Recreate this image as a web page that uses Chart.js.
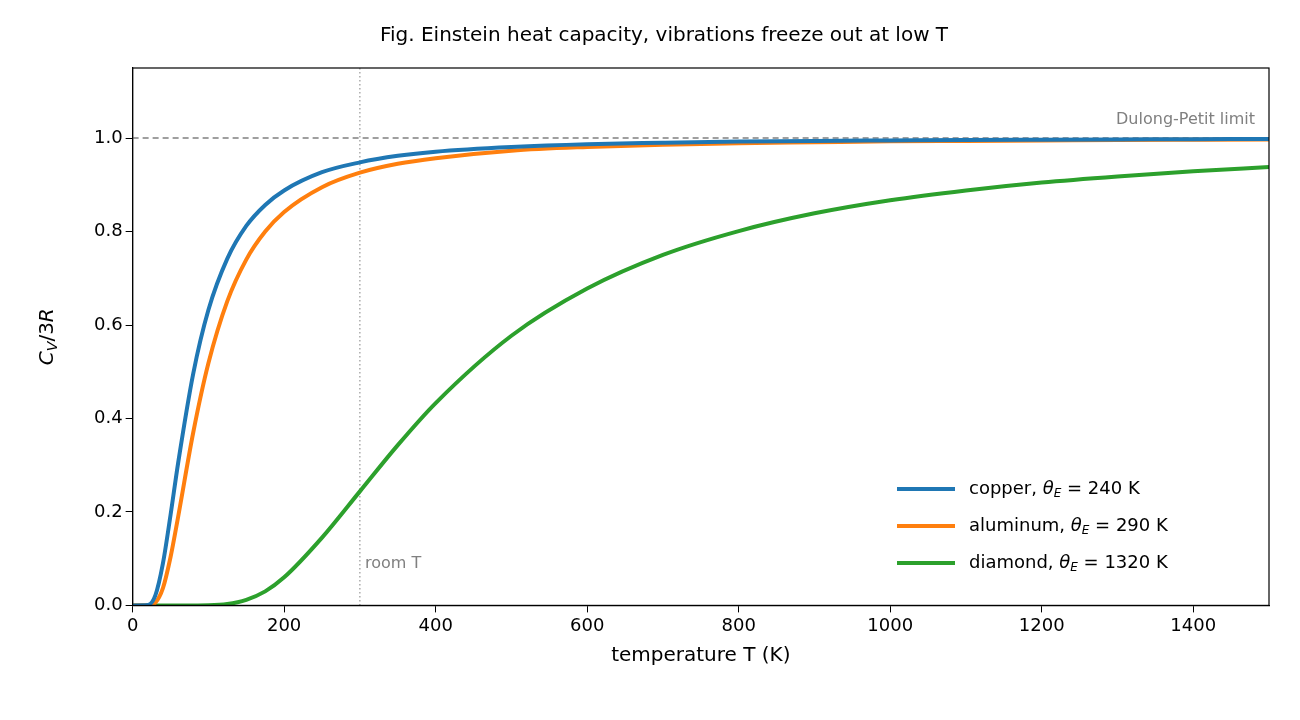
<!DOCTYPE html>
<html>
<head>
<meta charset="utf-8">
<script src="https://cdn.jsdelivr.net/npm/chart.js@4"></script>
<style>body{margin:0;background:#fff}</style>
</head>
<body>
<canvas id="c" width="1300" height="720"></canvas>
<script>
const temps = [0, 20, 30, 40, 50, 60, 80, 100, 125, 150, 175, 200, 250, 300, 350, 400, 500, 600, 700, 800, 900, 1000, 1100, 1200, 1300, 1400, 1500];
const copper = [0, 0.0009, 0.0215, 0.090, 0.193, 0.304, 0.496, 0.632, 0.742, 0.812, 0.857, 0.888, 0.927, 0.948, 0.962, 0.971, 0.981, 0.987, 0.990, 0.9925, 0.994, 0.995, 0.996, 0.9967, 0.9972, 0.9976, 0.998];
const aluminum = [0, 0.0001, 0.006, 0.037, 0.103, 0.189, 0.370, 0.518, 0.651, 0.740, 0.800, 0.842, 0.895, 0.926, 0.945, 0.957, 0.973, 0.981, 0.986, 0.989, 0.991, 0.993, 0.994, 0.995, 0.996, 0.9964, 0.997];
const diamond = [0, 0, 0, 0, 0, 0, 0, 0.0003, 0.003, 0.012, 0.030, 0.060, 0.145, 0.244, 0.343, 0.433, 0.577, 0.678, 0.750, 0.801, 0.839, 0.867, 0.888, 0.905, 0.918, 0.929, 0.938];
const names = ['copper', 'aluminum', 'diamond'];
const thetas = [240, 290, 1320];
const colors = ['#1f77b4', '#ff7f0e', '#2ca02c'];
const xTicks = [0, 200, 400, 600, 800, 1000, 1200, 1400];
const yTicks = [0, 0.2, 0.4, 0.6, 0.8, 1.0];

const pts = arr => temps.map((t, i) => ({x: t, y: arr[i]}));
const series = [copper, aluminum, diamond];

const extras = {
  id: 'extras',
  beforeDatasetsDraw(chart) {
    const {ctx, scales: {x, y}, chartArea: a} = chart;
    ctx.save();
    ctx.strokeStyle = '#808080';
    ctx.lineWidth = 1.5;
    ctx.setLineDash([6, 4]);
    ctx.beginPath(); ctx.moveTo(a.left, y.getPixelForValue(1)); ctx.lineTo(a.right, y.getPixelForValue(1)); ctx.stroke();
    ctx.lineWidth = 1;
    ctx.setLineDash([1.5, 2.5]);
    ctx.beginPath(); ctx.moveTo(x.getPixelForValue(300), a.top); ctx.lineTo(x.getPixelForValue(300), a.bottom); ctx.stroke();
    ctx.restore();
  },
  afterDraw(chart) {
    const {ctx, scales: {x, y}, chartArea: a} = chart;
    ctx.save();
    ctx.strokeStyle = '#000'; ctx.lineWidth = 1.2;
    ctx.strokeRect(a.left, a.top, a.right - a.left, a.bottom - a.top);
    ctx.fillStyle = '#808080';
    ctx.font = '16px "DejaVu Sans"';
    ctx.textAlign = 'right'; ctx.textBaseline = 'bottom';
    ctx.fillText('Dulong-Petit limit', a.right - 14, y.getPixelForValue(1) - 10);
    ctx.textAlign = 'left'; ctx.textBaseline = 'alphabetic';
    ctx.fillText('room T', x.getPixelForValue(300) + 5, y.getPixelForValue(0.08));
    // legend
    ctx.textBaseline = 'middle';
    series.forEach((s, i) => {
      const ly = 489 + i * 37;
      ctx.strokeStyle = colors[i]; ctx.lineWidth = 4;
      ctx.beginPath(); ctx.moveTo(897, ly); ctx.lineTo(955, ly); ctx.stroke();
      ctx.fillStyle = '#000';
      ctx.font = '18px "DejaVu Sans"';
      let tx = 969;
      const t1 = names[i] + ', ';
      ctx.fillText(t1, tx, ly); tx += ctx.measureText(t1).width;
      ctx.font = 'italic 18px "DejaVu Sans"';
      ctx.fillText('θ', tx, ly); tx += ctx.measureText('θ').width;
      ctx.font = 'italic 12px "DejaVu Sans"';
      ctx.fillText('E', tx, ly + 5); tx += ctx.measureText('E').width;
      ctx.font = '18px "DejaVu Sans"';
      ctx.fillText(' = ' + thetas[i] + ' K', tx, ly);
    });
    // y title
    ctx.translate(48, (a.top + a.bottom) / 2);
    ctx.rotate(-Math.PI / 2);
    ctx.textAlign = 'left';
    const parts = [['C', 'italic 20px "DejaVu Sans"', 0], ['V', 'italic 14px "DejaVu Sans"', 5], ['/3', '20px "DejaVu Sans"', 0], ['R', 'italic 20px "DejaVu Sans"', 0]];
    let w = 0;
    parts.forEach(p => { ctx.font = p[1]; w += ctx.measureText(p[0]).width; });
    let px = -w / 2;
    ctx.fillStyle = '#000';
    parts.forEach(p => { ctx.font = p[1]; ctx.fillText(p[0], px, p[2]); px += ctx.measureText(p[0]).width; });
    ctx.restore();
  }
};

new Chart(document.getElementById('c'), {
  type: 'line',
  data: {
    datasets: series.map((s, i) => ({
      label: names[i],
      data: pts(s),
      borderColor: colors[i],
      borderWidth: 4,
      pointRadius: 0,
      fill: false,
      cubicInterpolationMode: 'monotone'
    }))
  },
  options: {
    responsive: false,
    animation: false,
    devicePixelRatio: 1,
    layout: {padding: {left: 59, right: 31, top: 10, bottom: 48}},
    plugins: {
      legend: {display: false},
      tooltip: {enabled: false},
      title: {display: true, text: 'Fig. Einstein heat capacity, vibrations freeze out at low T', color: '#000', font: {size: 20, family: 'DejaVu Sans', weight: 'normal'}, padding: {top: 14, bottom: 20}}
    },
    scales: {
      x: {
        type: 'linear', min: 0, max: 1500,
        afterBuildTicks: ax => { ax.ticks = xTicks.map(v => ({value: v})); },
        grid: {display: true, drawOnChartArea: false, tickLength: 7, color: '#000'},
        border: {color: '#000', width: 1.2},
        ticks: {color: '#000', font: {size: 18, family: 'DejaVu Sans'}, maxRotation: 0, callback: v => String(v)},
        title: {display: true, text: 'temperature T (K)', color: '#000', font: {size: 20, family: 'DejaVu Sans'}}
      },
      y: {
        min: 0, max: 1.15,
        afterBuildTicks: ax => { ax.ticks = yTicks.map(v => ({value: v})); },
        grid: {display: true, drawOnChartArea: false, tickLength: 7, color: '#000'},
        border: {color: '#000', width: 1.2},
        ticks: {color: '#000', font: {size: 18, family: 'DejaVu Sans'}, callback: v => v.toFixed(1)},
        title: {display: true, text: ' ', font: {size: 20}}
      }
    }
  },
  plugins: [extras]
});
</script>
</body>
</html>
